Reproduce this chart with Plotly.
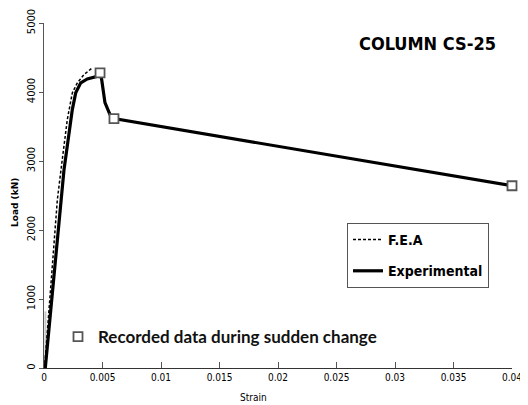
import plotly.graph_objects as go

# Experimental load-strain curve
exp_strain = [0.0, 0.00011, 0.00171, 0.00205, 0.00242, 0.00271, 0.00314, 0.00370, 0.00456, 0.00479,
              0.00493, 0.00521, 0.00564, 0.00598, 0.0100, 0.0150, 0.0219, 0.0300, 0.0350, 0.0400]
exp_load = [0, 0, 2874, 3266, 3745, 3987, 4132, 4190, 4228, 4277,
            4181, 3846, 3672, 3614, 3500, 3360, 3165, 2930, 2790, 2641]

# F.E.A curve
fea_strain = [0.00005, 0.00114, 0.00156, 0.00199, 0.00242, 0.00285, 0.00342, 0.00413]
fea_load = [0, 2438, 3019, 3599, 3987, 4132, 4253, 4350]

# Recorded data during sudden change
rec_strain = [0.00479, 0.00598, 0.0400]
rec_load = [4277, 3614, 2641]

# faint initial spike
spike_strain = [0.00012, 0.00012]
spike_load = [0, 820]

x_ticks = [0, 0.005, 0.01, 0.015, 0.02, 0.025, 0.03, 0.035, 0.04]
x_labels = ["0", "0.005", "0.01", "0.015", "0.02", "0.025", "0.03", "0.035", "0.04"]
y_ticks = [0, 1000, 2000, 3000, 4000, 5000]
y_labels = ["0", "1000", "2000", "3000", "4000", "5000"]

NARROW = "DejaVu Sans Condensed"

# page has an 8px body margin: figure occupies page (8..528, 8..405)
OFF = 8
W, H = 528 - OFF, 405 - OFF
# plot area in page pixels: x 44..512, y 23..368
L, R, T, B = 44 - OFF, 528 - 512, 23 - OFF, 405 - 368
PW, PH = W - L - R, H - T - B


def px(xp):
    return (xp - OFF - L) / PW


def py(yp):
    return (H - B - (yp - OFF)) / PH


fig = go.Figure()
fig.add_trace(go.Scatter(x=spike_strain, y=spike_load, mode="lines",
                         line=dict(color="#c8c8c8", width=2), showlegend=False, hoverinfo="skip"))
fig.add_trace(go.Scatter(x=fea_strain, y=fea_load, mode="lines", name="F.E.A",
                         line=dict(color="black", width=1.5, dash="3px,2px"),
                         legend="legend", legendgroup="fea"))
fig.add_trace(go.Scatter(x=exp_strain, y=exp_load, mode="lines", name="Experimental",
                         line=dict(color="black", width=3.2),
                         legend="legend", legendgroup="exp"))
fig.add_trace(go.Scatter(x=rec_strain, y=rec_load, mode="markers",
                         name="Recorded data during sudden change",
                         marker=dict(symbol="square", size=9, color="white",
                                     line=dict(color="#555555", width=1.8)),
                         legend="legend2", cliponaxis=False))

fig.update_layout(
    width=W, height=H,
    margin=dict(l=L, r=R, t=T, b=B),
    paper_bgcolor="white", plot_bgcolor="white",
    showlegend=True,
    xaxis=dict(range=[0, 0.04], tickvals=x_ticks, ticktext=x_labels, automargin=False,
               showgrid=False, zeroline=False, showline=True, linecolor="#333333", linewidth=1,
               ticks="inside", ticklen=6, tickcolor="#555555", ticklabeloverflow="allow",
               tickfont=dict(family=NARROW, size=10, color="black")),
    yaxis=dict(range=[0, 5000], tickvals=y_ticks, ticktext=y_labels, automargin=False,
               showgrid=False, zeroline=False, showline=True, linecolor="#555555", linewidth=1,
               ticks="outside", ticklen=4, tickcolor="#555555", tickangle=-90,
               ticklabeloverflow="allow",
               tickfont=dict(family="DejaVu Sans", size=10, color="black")),
    legend=dict(x=px(347), y=py(223), xanchor="left", yanchor="top",
                bordercolor="#555555", borderwidth=1, bgcolor="white",
                font=dict(family=NARROW, size=14, color="black", weight="bold"),
                itemwidth=30, tracegroupgap=10),
    legend2=dict(x=px(58), y=py(337), xanchor="left", yanchor="middle",
                 bgcolor="rgba(0,0,0,0)", borderwidth=0,
                 font=dict(family="Lato", size=17, color="#111111", weight="bold"),
                 itemwidth=30),
    annotations=[
        dict(text="<b>COLUMN CS-25</b>", x=px(427), y=py(44), xref="paper", yref="paper",
             xanchor="center", yanchor="middle",
             showarrow=False, font=dict(family=NARROW, size=18, color="black")),
        dict(text="Strain", x=px(253), y=py(397), xref="paper", yref="paper",
             xanchor="center", yanchor="middle", showarrow=False,
             font=dict(family=NARROW, size=10, color="black")),
        dict(text="<b>Load (kN)</b>", x=px(15), y=py(203), xref="paper", yref="paper",
             xanchor="center", yanchor="middle", textangle=-90,
             showarrow=False, font=dict(family="DejaVu Sans", size=9, color="black")),
    ],
)

fig.write_html("out.html")
